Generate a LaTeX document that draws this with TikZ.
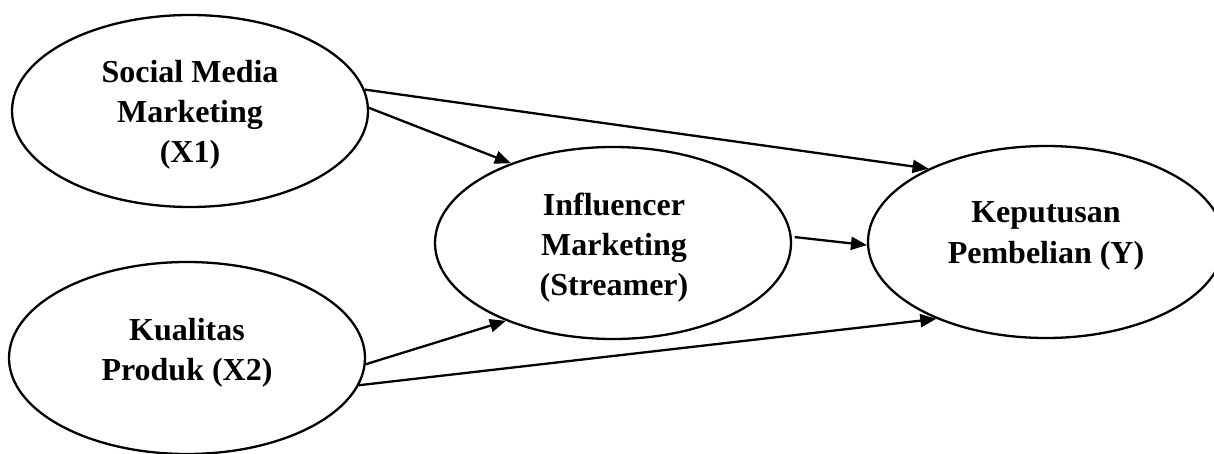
\documentclass[tikz,border=0pt]{standalone}
\usepackage{fontspec}
\setmainfont{Liberation Serif}
\usetikzlibrary{arrows.meta,shapes.geometric}
\begin{document}
\begin{tikzpicture}[x=1pt,y=-1pt,
  latent/.style={draw, ellipse, line width=2.3pt, minimum width=356pt, minimum height=192pt, inner sep=0pt},
  lbl/.style={font=\bfseries\fontsize{32}{40}\selectfont, anchor=base, inner sep=0pt},
  conn/.style={line width=2.3pt, -{Triangle[length=16pt,width=13pt]}}]
\useasboundingbox (0,0) rectangle (1214,454);
\node[latent] (x1) at (190,111) {};
\node[latent] (x2) at (187,358) {};
\node[latent] (im) at (613,243) {};
\node[latent] (y) at (1046,242) {};
\node[lbl] (x1t) at (190,83) {\begin{tabular}[t]{@{}c@{}}Social Media\\Marketing\\(X1)\end{tabular}};
\node[lbl] (x2t) at (187,340) {\begin{tabular}[t]{@{}c@{}}Kualitas\\Produk (X2)\end{tabular}};
\node[lbl] (imt) at (614,215) {\begin{tabular}[t]{@{}c@{}}Influencer\\Marketing\\(Streamer)\end{tabular}};
\node[lbl] (yt) at (1046,223) {\begin{tabular}[t]{@{}c@{}}Keputusan\\Pembelian (Y)\end{tabular}};
\draw[conn] (x1.7) -- (y.148);
\draw[conn] (x1.1) -- (im.142);
\draw[conn, shorten <=3pt] (im.2) -- (y.181);
\draw[conn] (x2.358) -- (im.216);
\draw[conn] (x2.351) -- (y.215);
\end{tikzpicture}
\end{document}
